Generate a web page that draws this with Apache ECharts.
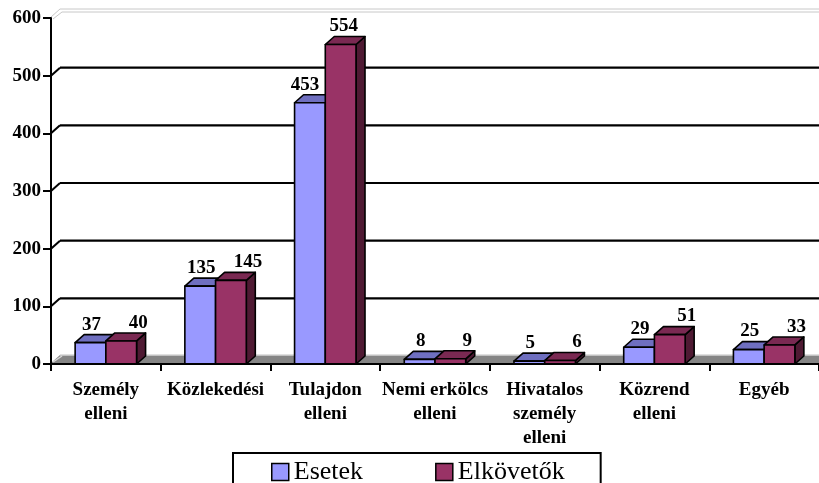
<!DOCTYPE html>
<html>
<head>
<meta charset="utf-8">
<script src="https://cdn.jsdelivr.net/npm/echarts@6/dist/echarts.min.js"></script>
<style>html,body{margin:0;padding:0;background:#fff}#c{width:819px;height:483px}</style>
</head>
<body>
<div id="c"></div>
<script>
const categories = ["Személy\nelleni", "Közlekedési", "Tulajdon\nelleni", "Nemi erkölcs\nelleni", "Hivatalos\nszemély\nelleni", "Közrend\nelleni", "Egyéb"];
const esetek = [37, 135, 453, 8, 5, 29, 25];
const elkovetok = [40, 145, 554, 9, 6, 51, 33];
const yTicks = [0, 100, 200, 300, 400, 500, 600];
const seriesNames = ["Esetek", "Elkövetők"];

const FONT = '"Liberation Serif", "Times New Roman", serif';
const DX = 9, DY = -8;

function barRenderer(side, front, topC, sideC) {
  return function (params, api) {
    const ci = api.value(0), v = api.value(1);
    const base = api.coord([ci, 0]);
    const top = api.coord([ci, v]);
    const band = api.size([1, 0])[0];
    const w = band * 0.28;
    const x0 = side === 0 ? base[0] - w : base[0];
    const x1 = x0 + w;
    const yb = base[1], yt = top[1];
    const st = { stroke: '#000', lineWidth: 1.6, lineJoin: 'round' };
    const ldx = side === 0 ? (v > 300 ? -5 : 1) : (v > 300 ? 3 : 17);
    return {
      type: 'group',
      children: [
        { type: 'polygon', shape: { points: [[x1, yt], [x1 + DX, yt + DY], [x1 + DX, yb + DY], [x1, yb]] }, style: Object.assign({ fill: sideC }, st) },
        { type: 'polygon', shape: { points: [[x0, yt], [x0 + DX, yt + DY], [x1 + DX, yt + DY], [x1, yt]] }, style: Object.assign({ fill: topC }, st) },
        { type: 'rect', shape: { x: x0, y: yt, width: w, height: yb - yt }, style: Object.assign({ fill: front }, st) },
        { type: 'text', z2: 100, style: { text: String(v), x: (x0 + x1) / 2 + ldx, y: yt - 18, align: 'center', verticalAlign: 'middle', fill: '#000', font: 'bold 19px ' + FONT } }
      ]
    };
  };
}

function wallRenderer(params, api) {
  const v = api.value(0);
  const p = api.coord([0, v]);
  const cs = params.coordSys;
  const left = cs.x, right = cs.x + cs.width + 20;
  const y = p[1];
  if (v === 0) {
    return {
      type: 'group', children: [
        { type: 'polygon', shape: { points: [[left, y - 1], [left + DX, y + DY - 1], [right, y + DY - 1], [right, y - 1]] }, style: { fill: '#858585' } },
        { type: 'line', shape: { x1: left + DX, y1: y + DY - 1, x2: right, y2: y + DY - 1 }, style: { stroke: '#d6d6d6', lineWidth: 1.5 } },
        { type: 'line', shape: { x1: left + 2, y1: y - 2, x2: left + DX + 2, y2: y + DY }, style: { stroke: '#d6d6d6', lineWidth: 1.5 } }
      ]
    };
  }
  if (v === 600) {
    return {
      type: 'group', children: [
        { type: 'line', shape: { x1: left + DX, y1: y + DY - 1, x2: right, y2: y + DY - 1 }, style: { stroke: '#c8c8c8', lineWidth: 1 } },
        { type: 'line', shape: { x1: left + DX + 2, y1: y + DY + 2, x2: right, y2: y + DY + 2 }, style: { stroke: '#c8c8c8', lineWidth: 1 } },
        { type: 'line', shape: { x1: left, y1: y - 1, x2: left + DX, y2: y + DY - 1 }, style: { stroke: '#c8c8c8', lineWidth: 1 } },
        { type: 'line', shape: { x1: left + 2, y1: y + 1, x2: left + DX + 2, y2: y + DY + 2 }, style: { stroke: '#c8c8c8', lineWidth: 1 } }
      ]
    };
  }
  return {
    type: 'group', children: [
      { type: 'line', shape: { x1: left + DX, y1: y + DY, x2: right, y2: y + DY }, style: { stroke: '#000', lineWidth: 2.2 } },
      { type: 'line', shape: { x1: left, y1: y, x2: left + DX, y2: y + DY }, style: { stroke: '#000', lineWidth: 2 } }
    ]
  };
}

const chart = echarts.init(document.getElementById('c'), null, { renderer: 'canvas' });
chart.setOption({
  animation: false,
  backgroundColor: '#fff',
  textStyle: { fontFamily: FONT },
  grid: { left: 51, right: -4, top: 18, bottom: 119, containLabel: false },
  legend: {
    left: 233, top: 453,
    data: seriesNames,
    icon: 'rect',
    itemWidth: 17, itemHeight: 17, itemGap: 72,
    padding: [6, 36, 22, 38],
    borderColor: '#000', borderWidth: 2,
    itemStyle: { borderColor: '#000', borderWidth: 1.5 },
    textStyle: { fontFamily: FONT, fontSize: 26, color: '#000', padding: [0, 0, 0, 0] }
  },
  xAxis: {
    type: 'category', data: categories, z: 5,
    axisLine: { lineStyle: { color: '#000', width: 2 } },
    axisTick: { show: true, length: 7, lineStyle: { color: '#000', width: 2 } },
    axisLabel: { interval: 0, margin: 14, color: '#000', fontFamily: FONT, fontWeight: 'bold', fontSize: 19, lineHeight: 24 },
    splitLine: { show: false }
  },
  yAxis: {
    type: 'value', min: 0, max: 600, interval: 100, z: 5,
    axisLine: { show: true, lineStyle: { color: '#000', width: 2 } },
    axisTick: { show: true, length: 8, lineStyle: { color: '#000', width: 2 } },
    axisLabel: { margin: 10, color: '#000', fontFamily: FONT, fontWeight: 'bold', fontSize: 19 },
    splitLine: { show: false }
  },
  series: [
    { type: 'custom', name: '_walls', z: 1, silent: true, renderItem: wallRenderer, data: yTicks.map(v => [v]), encode: { y: 0 } },
    { type: 'custom', name: seriesNames[0], z: 2, itemStyle: { color: '#9999FF' }, renderItem: barRenderer(0, '#9999FF', '#6f6fc0', '#4d4d80'), data: esetek.map((v, i) => [i, v]), encode: { x: 0, y: 1 } },
    { type: 'custom', name: seriesNames[1], z: 2, itemStyle: { color: '#993366' }, renderItem: barRenderer(1, '#993366', '#7a2952', '#4f1a33'), data: elkovetok.map((v, i) => [i, v]), encode: { x: 0, y: 1 } }
  ]
});
</script>
</body>
</html>
